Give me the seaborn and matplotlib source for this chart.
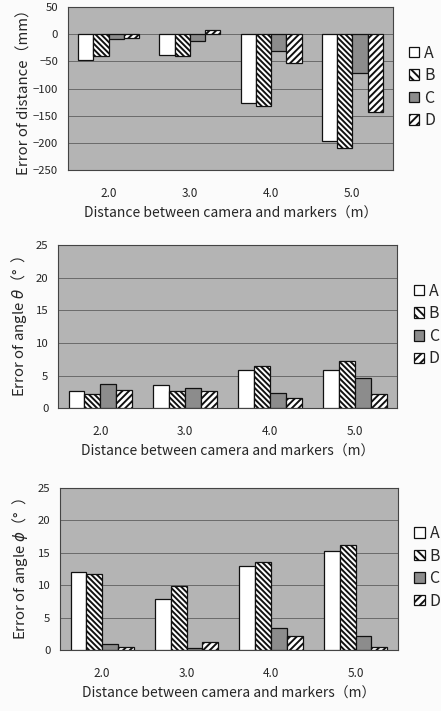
import matplotlib
matplotlib.use("Agg")
import matplotlib.pyplot as plt
from matplotlib.patches import Patch
import seaborn as sns
import pandas as pd

distances = ["2.0", "3.0", "4.0", "5.0"]
methods = ["A", "B", "C", "D"]

err_distance = {
    "A": [-48, -38, -126, -197],
    "B": [-41, -41, -133, -210],
    "C": [-8, -12, -30, -71],
    "D": [-7, 8, -53, -143],
}
err_theta = {
    "A": [2.6, 3.6, 5.9, 5.9],
    "B": [2.1, 2.7, 6.5, 7.3],
    "C": [3.7, 3.1, 2.3, 4.6],
    "D": [2.8, 2.6, 1.6, 2.1],
}
err_phi = {
    "A": [12.0, 7.9, 13.0, 15.3],
    "B": [11.7, 9.9, 13.5, 16.2],
    "C": [0.9, 0.25, 3.4, 2.2],
    "D": [0.4, 1.2, 2.1, 0.5],
}

ylabels = ["Error of distance（mm）", "Error of angle $\\theta$（°  ）", "Error of angle $\\phi$（°  ）"]
ylims = [(-250, 50), (0, 25), (0, 25)]
yticks = [list(range(-250, 51, 50)), list(range(0, 26, 5)), list(range(0, 26, 5))]
xlabel = "Distance between camera and markers（m）"

face = {"A": "white", "B": "white", "C": "#8c8c8c", "D": "white"}
hatch = {"A": "", "B": "\\" * 6, "C": "", "D": "/" * 5}
legend_hatch = {"A": "", "B": "\\" * 4, "C": "", "D": "/" * 4}

sns.set_theme(style="white")
plt.rcParams["font.family"] = ["Noto Sans CJK JP", "DejaVu Sans"]
plt.rcParams["hatch.linewidth"] = 1.4
plt.rcParams["mathtext.fontset"] = "dejavusans"

fig = plt.figure(figsize=(4.41, 7.11), dpi=100)
fig.patch.set_facecolor("#fbfbfb")
positions = [
    [0.154, 0.761, 0.737, 0.229],
    [0.1315, 0.426, 0.769, 0.229],
    [0.136, 0.0858, 0.766, 0.228],
]
label_x = [-0.112, -0.085, -0.088]

for i, data in enumerate([err_distance, err_theta, err_phi]):
    ax = fig.add_axes(positions[i])
    rows = []
    for m in methods:
        for d, v in zip(distances, data[m]):
            rows.append({"dist": d, "method": m, "value": v})
    df = pd.DataFrame(rows)
    sns.barplot(data=df, x="dist", y="value", hue="method", order=distances,
                hue_order=methods, palette=face, edgecolor="#111111",
                linewidth=0.9, width=0.75, ax=ax, legend=False, zorder=3)
    for m, cont in zip(methods, ax.containers):
        for bar in cont:
            bar.set_hatch(hatch[m])
            bar.set_edgecolor("#111111")
    ax.set_facecolor("#b4b4b4")
    ax.set_ylim(*ylims[i])
    ax.set_yticks(yticks[i])
    ax.set_xlim(-0.5, 3.5)
    ax.yaxis.grid(True, color="#6a6a6a", linewidth=0.7, zorder=0)
    ax.set_axisbelow(True)
    for s in ax.spines.values():
        s.set_color("#444444")
        s.set_linewidth(0.8)
    ax.tick_params(axis="x", length=0, pad=12, labelsize=8.5)
    ax.tick_params(axis="y", length=0, pad=7, labelsize=8.2)
    ax.set_xlabel(xlabel, fontsize=10, labelpad=5)
    ax.set_ylabel(ylabels[i], fontsize=10.8)
    ax.yaxis.set_label_coords(label_x[i], 0.5)
    handles = [Patch(facecolor=face[m], edgecolor="#111111", hatch=legend_hatch[m],
                     linewidth=0.9) for m in methods]
    ax.legend(handles, methods, loc="center left", bbox_to_anchor=(1.03, 0.51),
              frameon=False, fontsize=11.5, handlelength=0.65, handleheight=0.65,
              handletextpad=0.3, labelspacing=0.35, borderaxespad=0)

fig.savefig("out.png", dpi=100, facecolor=fig.get_facecolor())
